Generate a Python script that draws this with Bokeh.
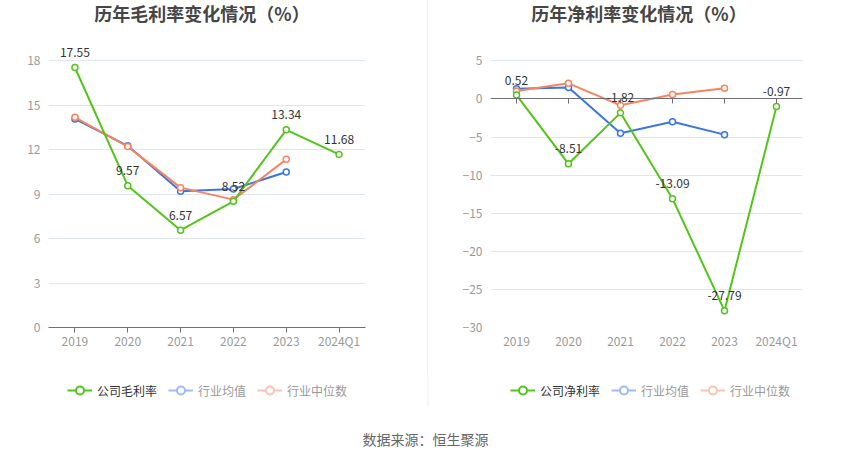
from bokeh.plotting import figure
from bokeh.models import (ColumnDataSource, Range1d, FixedTicker, Legend, LegendItem,
                          Label, LabelSet, LinearAxis, CustomJSTickFormatter, Spacer)
from bokeh.layouts import row, column
from bokeh.core.properties import value
from bokeh.embed import file_html
from bokeh.resources import INLINE

# ---------------- data ----------------
years = ["2019", "2020", "2021", "2022", "2023", "2024Q1"]
ind_years = ["2019", "2020", "2021", "2022", "2023"]

gross_company = [17.55, 9.57, 6.57, 8.52, 13.34, 11.68]
gross_ind_avg = [14.08, 12.26, 9.19, 9.35, 10.50]
gross_ind_med = [14.19, 12.21, 9.44, 8.63, 11.35]

net_company = [0.52, -8.51, -1.82, -13.09, -27.79, -0.97]
net_ind_avg = [1.33, 1.50, -4.50, -3.00, -4.68]
net_ind_med = [1.06, 2.06, -0.83, 0.58, 1.41]

gross_ticks = [0, 3, 6, 9, 12, 15, 18]
net_ticks = [-30, -25, -20, -15, -10, -5, 0, 5]

gross_title = "历年毛利率变化情况（%）"
net_title = "历年净利率变化情况（%）"
gross_names = ["公司毛利率", "行业均值", "行业中位数"]
net_names = ["公司净利率", "行业均值", "行业中位数"]
source_text = "数据来源：恒生聚源"

FONT = "Noto Sans CJK SC"
GREEN = "#52c41a"
BLUE = "#3a75e8"
ORANGE = "#f7845e"
BLUE_L = "#9dbbf6"
ORANGE_L = "#fbc4b0"
GRID = "#e0e6f1"
AXIS = "#6e7079"
TICKLBL = "#9a9a9a"

TOP_H = 375


def make_panel(width, border_left, border_right, y_lo, y_hi, ticks, company, avg, med,
               title, title_x, zero_axis):
    p = figure(width=width, height=TOP_H, x_range=years, y_range=Range1d(y_lo, y_hi),
               output_backend="svg", toolbar_location=None,
               min_border_left=border_left, min_border_right=border_right,
               min_border_top=0, min_border_bottom=48)
    p.outline_line_color = None
    p.background_fill_color = "white"
    p.border_fill_color = "white"
    p.xgrid.grid_line_color = None
    p.ygrid.grid_line_color = GRID
    p.ygrid.ticker = FixedTicker(ticks=ticks)

    yax = p.yaxis[0]
    yax.ticker = FixedTicker(ticks=ticks)
    yax.axis_line_color = None
    yax.major_tick_line_color = None
    yax.minor_tick_line_color = None
    yax.major_tick_out = 0
    yax.major_tick_in = 0
    yax.major_label_standoff = 8
    yax.major_label_text_color = TICKLBL
    yax.major_label_text_font = FONT
    yax.major_label_text_font_size = "12px"

    xax = p.xaxis[0]
    xax.major_label_text_color = TICKLBL
    xax.major_label_text_font = FONT
    xax.major_label_text_font_size = "12px"
    if zero_axis:
        xax.axis_line_color = None
        xax.major_tick_line_color = None
        xax.major_tick_out = 0
        xax.major_tick_in = 0
        xax.major_label_standoff = 4
        zax = LinearAxis(fixed_location=0,
                         ticker=FixedTicker(ticks=[i + 0.5 for i in range(len(years))]),
                         formatter=CustomJSTickFormatter(code="return ''"),
                         axis_line_color=AXIS, major_tick_line_color=AXIS,
                         major_tick_in=0, major_tick_out=5,
                         minor_tick_line_color=None, major_label_text_font_size="1px")
        p.add_layout(zax, "below")
    else:
        xax.axis_line_color = AXIS
        xax.major_tick_line_color = AXIS
        xax.major_tick_in = 0
        xax.major_tick_out = 5
        xax.major_label_standoff = -1

    # series
    p.line(ind_years, avg, line_color=BLUE, line_width=2)
    p.scatter(ind_years, avg, size=6, marker="circle", line_color=BLUE,
              fill_color="white", line_width=1.5)
    p.line(ind_years, med, line_color=ORANGE, line_width=2)
    p.scatter(ind_years, med, size=6, marker="circle", line_color=ORANGE,
              fill_color="white", line_width=1.5)
    p.line(years, company, line_color=GREEN, line_width=2)
    p.scatter(years, company, size=6, marker="circle", line_color=GREEN,
              fill_color="white", line_width=1.5)

    src = ColumnDataSource(dict(x=years, y=company, t=[f"{v:.2f}" for v in company]))
    p.add_layout(LabelSet(x="x", y="y", text="t", source=src, y_offset=15,
                          text_align="center", text_baseline="middle",
                          text_font=value(FONT), text_font_size=value("12px"),
                          text_color="#333333"))

    # title (inside the frame, which reaches the top of the canvas)
    p.add_layout(Label(x=title_x, y=315, x_units="screen", y_units="screen", text=title,
                       text_align="center", text_baseline="middle", text_font=FONT,
                       text_font_size="18px", text_font_style="bold",
                       text_color="#464646"))
    return p


# left: 18 sits at 60px below the top, 14.8 px per unit
left = make_panel(427, 48, 62, 0, 22.07, gross_ticks, gross_company, gross_ind_avg,
                  gross_ind_med, gross_title, 153.5, False)
# right: 5 sits at 60px below the top, 7.61 px per unit
right = make_panel(422, 62, 48, -30, 12.93, net_ticks, net_company, net_ind_avg,
                   net_ind_med, net_title, 148.5, True)

sep = Spacer(width=1, height=TOP_H, styles={"background-color": "#eeeeee"})

# bottom strip: legends, separator tail, source text (page-pixel coordinates)
bottom = figure(width=850, height=459 - TOP_H, x_range=Range1d(0, 850),
                y_range=Range1d(459, TOP_H), output_backend="svg", toolbar_location=None,
                min_border_left=0, min_border_right=0, min_border_top=0, min_border_bottom=0)
bottom.axis.visible = False
bottom.grid.visible = False
bottom.outline_line_color = None
bottom.segment(x0=[427.5], y0=[TOP_H], x1=[427.5], y1=[406], line_color="#eeeeee",
               line_width=1)
bottom.add_layout(Label(x=425, y=438.3, text=source_text,
                        text_align="center", text_baseline="middle", text_font=FONT,
                        text_font_size="14px", text_color="#666666"))


def dummy(color):
    # off-screen single point: only used to draw the legend swatch
    l = bottom.line([-50, -40], [-50, -50], line_color=color, line_width=2)
    s = bottom.scatter([-50], [-50], marker="circle", line_color=color, fill_color="white",
                       line_width=2)
    return [l, s]


def add_legend(items, x, color):
    lg = Legend(items=items, location=(x, 59))
    lg.orientation = "horizontal"
    lg.padding = 0
    lg.margin = 0
    lg.spacing = 11
    lg.label_standoff = 5
    lg.glyph_width = 25
    lg.glyph_height = 20
    lg.label_height = 20
    lg.label_text_font = FONT
    lg.label_text_font_size = "12px"
    lg.label_text_color = color
    lg.label_text_baseline = "middle"
    lg.border_line_color = None
    lg.background_fill_alpha = 0
    bottom.add_layout(lg, "center")


for names, x0 in ((gross_names, 67), (net_names, 510)):
    add_legend([LegendItem(label=names[0], renderers=dummy(GREEN))], x0, "#333333")
    add_legend([LegendItem(label=names[1], renderers=dummy(BLUE_L)),
                LegendItem(label=names[2], renderers=dummy(ORANGE_L))], x0 + 101, "#999999")

layout = column(row(left, sep, right), bottom)
open("out.html", "w").write(file_html(layout, INLINE))
